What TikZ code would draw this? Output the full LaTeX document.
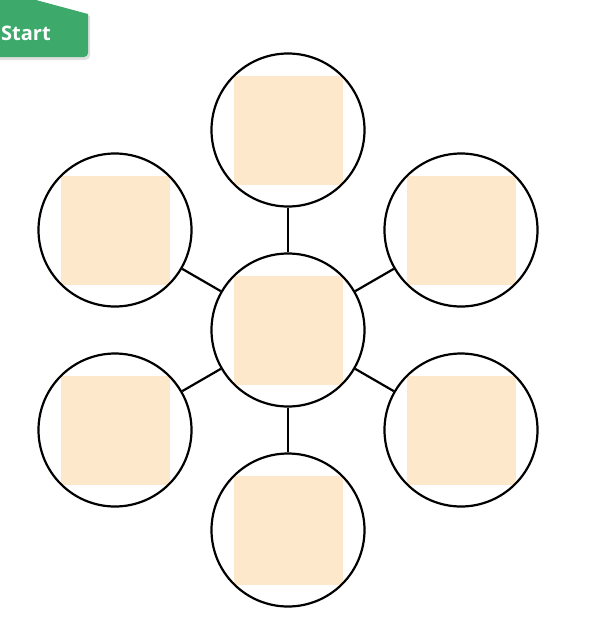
\documentclass[tikz,border=0pt]{standalone}
\usepackage{fontspec}
\setmainfont{Open Sans}
\definecolor{startgreen}{HTML}{3DAA6B}
\definecolor{boxfill}{HTML}{FDE8CC}
\begin{document}
\begin{tikzpicture}[x=1pt,y=-1pt,
  bubble/.style={circle,draw=black,line width=2.2pt,minimum size=153pt,inner sep=0pt},
  pad/.style={rectangle,fill=boxfill,minimum size=109pt,inner sep=0pt},
  link/.style={draw=black,line width=2.2pt}]
\useasboundingbox (0,0) rectangle (589,619);
% start button
\fill[black!12] (0,2) -- (37,2) -- (90,16) -- (90,56) to[out=-90,in=0] (85,60) -- (0,60) -- cycle;
\fill[startgreen] (0,0) -- (36,0) -- (88,14) -- (88,53) to[out=-90,in=0] (84,57) -- (0,57) -- cycle;
\node[text=white,font=\bfseries\fontsize{20}{24}\selectfont,anchor=west,inner sep=0pt] (start) at (1,33) {Start};
% pads (behind the rings)
\foreach \n/\x/\y in {pc/288/330,pt/288/130,ptl/115/230,ptr/461/230,pbl/115/430,pbr/461/430,pb/288/530}
  { \node[pad] (\n) at (\x,\y) {}; }
% bubbles
\node[bubble] (c) at (pc) {};
\node[bubble] (t) at (pt) {};
\node[bubble] (tl) at (ptl) {};
\node[bubble] (tr) at (ptr) {};
\node[bubble] (bl) at (pbl) {};
\node[bubble] (br) at (pbr) {};
\node[bubble] (b) at (pb) {};
% links
\foreach \n in {t,tl,tr,bl,br,b} { \draw[link] (c) -- (\n); }
\end{tikzpicture}
\end{document}
